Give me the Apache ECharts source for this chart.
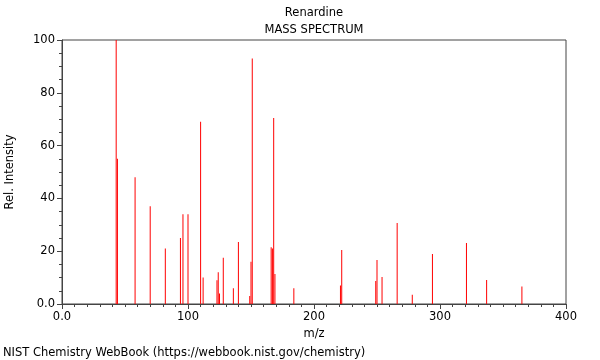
<!DOCTYPE html>
<html>
<head>
<meta charset="utf-8">
<script src="https://cdn.jsdelivr.net/npm/echarts@6/dist/echarts.min.js"></script>
<style>
html,body{margin:0;padding:0;background:#fff;}
#chart{width:600px;height:360px;}
</style>
</head>
<body>
<div id="chart"></div>
<script>
var mz = [43,44,58,70,82,94,96,100,110,112,123,124,125,128,136,140,149,150,151,166,167,168,169,184,221,222,249,250,254,266,278,294,321,337,365];
var intensity = [100,55,48,37,21,25,34,34,69,10,9,12,4,17.5,6,23.5,3,16,93,21.5,21,70.5,11.4,6,7,20.5,8.7,16.7,10.2,30.7,3.5,18.9,23.1,9.1,6.6];
var xTicks = [0,100,200,300,400];
var yTicks = [0,20,40,60,80,100];

var peaks = mz.map(function(m,i){return [m, intensity[i]];});
var chart = echarts.init(document.getElementById('chart'));
var font = 'DejaVu Sans';
var fs = 11.5;
var ts = {fontFamily:font,fontSize:fs,fill:'#000'};
chart.setOption({
  animation:false,
  backgroundColor:'#fff',
  graphic:[
    {type:'text',x:314,y:13,style:Object.assign({text:'Renardine',align:'center',verticalAlign:'middle'},ts)},
    {type:'text',x:314,y:30,style:Object.assign({text:'MASS SPECTRUM',align:'center',verticalAlign:'middle'},ts)},
    {type:'text',x:3,y:353,style:Object.assign({text:'NIST Chemistry WebBook (https://webbook.nist.gov/chemistry)',align:'left',verticalAlign:'middle'},ts)}
  ],
  grid:{left:62,right:34,top:40,bottom:56,show:true,borderColor:'#444',borderWidth:1,outerBoundsMode:'none',containLabel:false},
  xAxis:{
    type:'value',min:xTicks[0],max:xTicks[xTicks.length-1],interval:100,
    name:'m/z',nameLocation:'middle',nameGap:24,
    nameTextStyle:{fontFamily:font,fontSize:fs,color:'#000'},
    axisLine:{lineStyle:{color:'#444'}},
    axisTick:{length:5,lineStyle:{color:'#444'}},
    minorTick:{show:true,splitNumber:10,length:3,lineStyle:{color:'#444'}},
    splitLine:{show:false},
    axisLabel:{fontFamily:font,fontSize:fs,color:'#000',margin:7,formatter:function(v){return v===0?'0.0':String(v);}}
  },
  yAxis:{
    type:'value',min:yTicks[0],max:yTicks[yTicks.length-1],interval:20,
    name:'Rel. Intensity',nameLocation:'middle',nameGap:46,nameRotate:90,
    nameTextStyle:{fontFamily:font,fontSize:fs,color:'#000'},
    axisLine:{show:true,lineStyle:{color:'#444'}},
    axisTick:{show:true,length:5,lineStyle:{color:'#444'}},
    minorTick:{show:true,splitNumber:4,length:3,lineStyle:{color:'#444'}},
    splitLine:{show:false},
    axisLabel:{fontFamily:font,fontSize:fs,color:'#000',margin:7,formatter:function(v){return v===0?'0.0':String(v);}}
  },
  series:[{
    type:'bar',
    data:peaks,
    barWidth:1,
    itemStyle:{color:'#ff0000'},
    emphasis:{disabled:true}
  }]
});
</script>
</body>
</html>
